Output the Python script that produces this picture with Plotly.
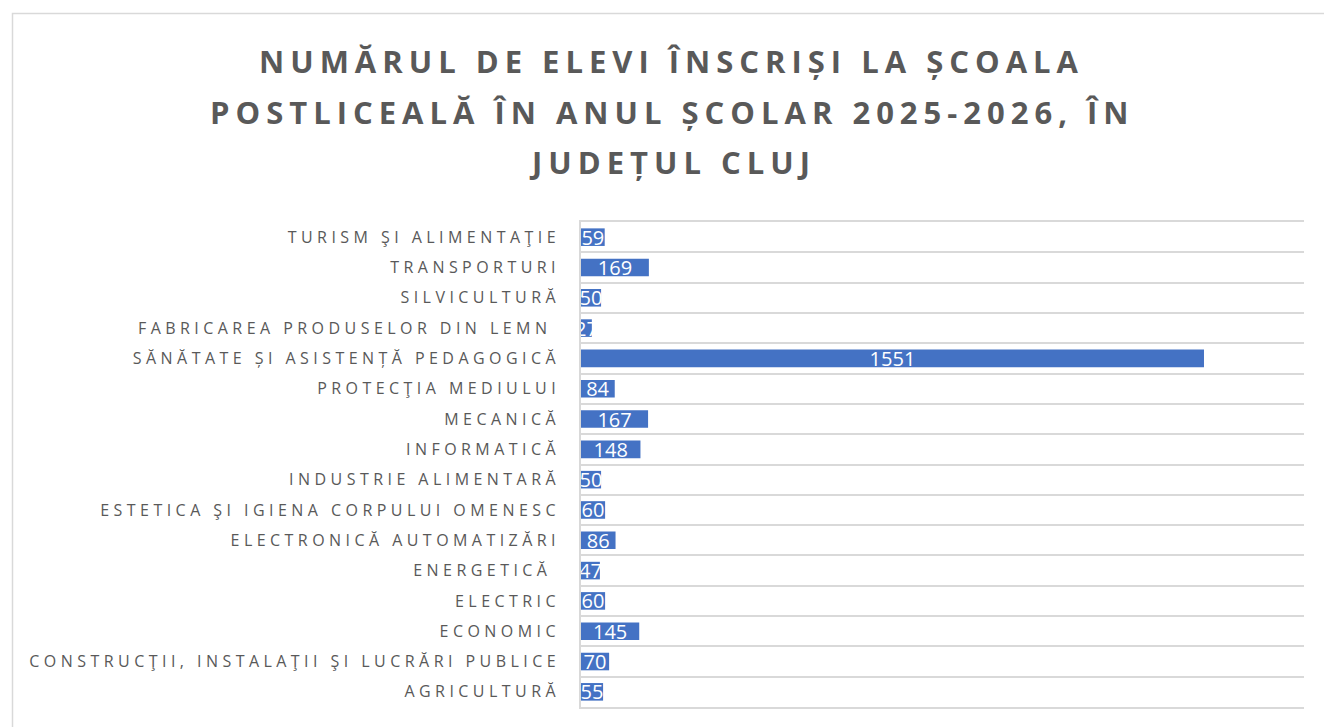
import plotly.graph_objects as go

categories = [
    "AGRICULTURĂ",
    "CONSTRUCŢII, INSTALAŢII ŞI LUCRĂRI PUBLICE",
    "ECONOMIC",
    "ELECTRIC",
    "ENERGETICĂ\u00a0",
    "ELECTRONICĂ AUTOMATIZĂRI",
    "ESTETICA ŞI IGIENA CORPULUI OMENESC",
    "INDUSTRIE ALIMENTARĂ",
    "INFORMATICĂ",
    "MECANICĂ",
    "PROTECŢIA MEDIULUI",
    "SĂNĂTATE ȘI ASISTENȚĂ PEDAGOGICĂ",
    "FABRICAREA PRODUSELOR DIN LEMN\u00a0",
    "SILVICULTURĂ",
    "TRANSPORTURI",
    "TURISM ŞI ALIMENTAŢIE",
]
values = [55, 70, 145, 60, 47, 86, 60, 50, 148, 167, 84, 1551, 27, 50, 169, 59]

title_lines = [
    "NUMĂRUL DE ELEVI ÎNSCRIȘI LA ȘCOALA",
    "POSTLICEALĂ ÎN ANUL ȘCOLAR 2025-2026, ÎN",
    "JUDEȚUL CLUJ",
]

W, H = 1324, 727
L, R, T, B = 581, 20, 222, 20
pw, ph = W - L - R, H - T - B

def px_x(x):
    return (x - L) / pw

def px_y(y):
    return (H - B - y) / ph

fig = go.Figure(go.Bar(
    x=values,
    y=categories,
    orientation="h",
    marker=dict(color="#4472C4", line=dict(width=0)),
    text=[str(v) for v in values],
    textposition="inside",
    insidetextanchor="middle",
    textangle=0,
    constraintext="none",
    textfont=dict(family="Open Sans", size=20, color="#FFFFFF"),
    cliponaxis=False,
    hoverinfo="skip",
))

annotations = []
for i, (line, cy) in enumerate(zip(title_lines, [61, 112, 162])):
    annotations.append(dict(
        text=line, xref="paper", yref="paper",
        x=px_x(672), y=px_y(cy), xanchor="center", yanchor="middle",
        showarrow=False,
        font=dict(family="Open Sans", size=31, color="#595959", weight="bold"),
    ))

fig.update_layout(
    width=W, height=H,
    margin=dict(l=L, r=R, t=T, b=B),
    paper_bgcolor="#FFFFFF",
    plot_bgcolor="#FFFFFF",
    bargap=0.42,
    showlegend=False,
    annotations=annotations,
    shapes=[dict(
        type="rect", xref="paper", yref="paper",
        x0=px_x(12.5), x1=px_x(1340), y0=px_y(740), y1=px_y(13.5),
        line=dict(color="#D9D9D9", width=1.5), fillcolor="rgba(0,0,0,0)",
        layer="below",
    )],
    xaxis=dict(
        range=[0, 1800], showgrid=False, zeroline=False,
        showticklabels=False, showline=True, mirror=True,
        linecolor="#D9D9D9", linewidth=1.5, ticks="", fixedrange=True,
    ),
    yaxis=dict(
        type="category", tickson="boundaries", showgrid=True,
        gridcolor="#D9D9D9", gridwidth=1.5,
        showline=True, linecolor="#D9D9D9", linewidth=1.5,
        ticks="", ticklabelstandoff=16, fixedrange=True,
        tickfont=dict(family="Open Sans", size=16, color="#595959"),
    ),
)

css = ("body{margin:0 !important;}"
       ".ytick text{letter-spacing:4.45px;}"
       ".annotation-text{letter-spacing:6px;}")
post = ("var s=document.createElement('style');s.textContent='" + css +
        "';document.head.appendChild(s);")

fig.write_html("out.html", post_script=post, config={"displayModeBar": False})
